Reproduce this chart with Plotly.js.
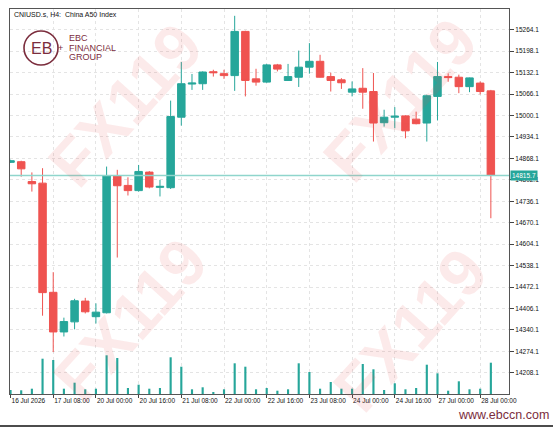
<!DOCTYPE html>
<html><head><meta charset="utf-8">
<script src="https://cdn.plot.ly/plotly-3.0.1.min.js"></script>
<style>html,body{margin:0;padding:0;background:#fff}#chart{width:553px;height:427px}</style>
</head><body><div id="chart"></div>
<script>
// CNIUSD.s H4 — China A50 Index
const openP  = [14856,14858,14797,14792,14456,14334,14365,14429,14381,14393,14815,14785,14769,14826,14779,14778,14995,15097,15098,15135,15129,15123,15259,15113,15103,15156,15108,15118,15149,15167,15120,15110,15072,15084,15074,14978,14995,14999,14989,14977,15059,15120,15118,15089,15100,15076];
const highP  = [14864,14861,14825,14838,14518,14378,14436,14439,14422,14843,14833,14810,14848,14829,14802,15046,15165,15128,15136,15141,15141,15307,15261,15144,15159,15159,15159,15200,15223,15187,15132,15115,15105,15146,15131,15018,15026,15001,15012,15064,15165,15130,15126,15117,15105,15079];
const lowP   = [14854,14812,14766,14384,14272,14320,14342,14391,14360,14391,14563,14754,14766,14776,14751,14774,14969,15079,15079,15120,15113,15076,15059,15092,15101,15136,15107,15088,15129,15117,15074,15082,15059,15021,14920,14966,14961,14930,14973,14920,14985,15104,15069,15072,15065,14684];
const closeP = [14861,14836,14790,14455,14334,14366,14430,14396,14395,14815,14784,14769,14828,14780,14782,14997,15098,15100,15134,15132,15123,15259,15108,15103,15156,15143,15120,15149,15167,15118,15108,15101,15082,15072,14977,14995,14998,14953,14975,15061,15120,15117,15089,15116,15074,14815.7];
const volume = [400,370,530,3530,3400,530,1130,470,530,3870,3600,600,930,530,600,3670,2730,470,670,200,470,3070,2730,470,600,330,470,3070,2200,530,1200,530,530,3000,2470,400,1070,470,600,2930,2070,330,1270,470,530,3130];
const tickLabels = ["16 Jul 2026","17 Jul 08:00","20 Jul 00:00","20 Jul 16:00","21 Jul 08:00","22 Jul 00:00","22 Jul 16:00","23 Jul 08:00","24 Jul 00:00","24 Jul 16:00","27 Jul 00:00","28 Jul 00:00"];
const tickEvery = 4;
const lastPrice = 14815.7;
const symbolTitle = "CNIUSD.s, H4:  China A50 Index";

const idx = openP.map((_, i) => i);
const tickIdx = tickLabels.map((_, k) => k * tickEvery);

const UP = '#26a69a', DOWN = '#ef5350', MAROON = '#7b2d3d';
const FONT = 'Liberation Sans, Arial, sans-serif';

// pixel helpers for decorations (plot area: x 10..509, y 9..394)
const L = 10, R = 509, T = 9, B = 394;
const px = x => (x - L) / (R - L);
const py = y => (B - y) / (B - T);

const traces = [
  {type: 'bar', x: idx, y: volume, yaxis: 'y2', width: 0.2,
   marker: {color: UP, line: {width: 0}}, hoverinfo: 'skip', showlegend: false},
  {type: 'candlestick', x: idx, open: openP, high: highP, low: lowP, close: closeP,
   increasing: {line: {color: UP, width: 1}, fillcolor: UP},
   decreasing: {line: {color: DOWN, width: 1}, fillcolor: DOWN},
   whiskerwidth: 0, showlegend: false}
];

const note = (x, y, text, font, extra) => Object.assign({xref: 'paper', yref: 'paper', x: px(x), y: py(y),
  xanchor: 'center', yanchor: 'middle', text: text, showarrow: false, font: font}, extra || {});

const wmFont = {family: FONT, size: 66, weight: 'bold', color: 'rgba(232,80,80,0.12)'};
const logoFont = {family: FONT, size: 9, color: MAROON};

const layout = {
  width: 553, height: 427,
  margin: {l: L, r: 553 - R, t: T, b: 427 - B, pad: 0},
  paper_bgcolor: '#fff', plot_bgcolor: '#fff',
  showlegend: false,
  boxgap: 0.3, boxgroupgap: 0,
  xaxis: {
    type: 'linear', range: [-0.05, 46.7], rangeslider: {visible: false},
    tickvals: tickIdx, ticktext: tickLabels, ticklabelposition: 'outside right', tickangle: 0,
    ticks: 'outside', ticklen: 3, tickcolor: '#444',
    tickfont: {family: FONT, size: 6.5, color: '#111'},
    showgrid: true, gridcolor: '#e4e4e4', griddash: '3px,3px', gridwidth: 1,
    showline: true, linecolor: '#555', linewidth: 1, mirror: true, zeroline: false
  },
  yaxis: {
    side: 'right', range: [14143, 15328], tick0: 14208.1, dtick: 66, tickformat: '.1f',
    ticks: 'outside', ticklen: 4, tickcolor: '#444',
    tickfont: {family: FONT, size: 6.5, color: '#111'},
    showgrid: true, gridcolor: '#e4e4e4', griddash: '3px,3px', gridwidth: 1,
    showline: true, linecolor: '#555', linewidth: 1, mirror: true, zeroline: false
  },
  yaxis2: {overlaying: 'y', range: [0, 38500], visible: false, showgrid: false, zeroline: false},
  shapes: [
    {type: 'line', xref: 'paper', x0: 0, x1: 1, yref: 'y', y0: lastPrice, y1: lastPrice,
     line: {color: '#8fd5cc', width: 1.5}},
    {type: 'circle', xref: 'paper', yref: 'paper', x0: px(24), x1: px(58), y0: py(65), y1: py(31),
     line: {color: MAROON, width: 1.6}},
    {type: 'line', xref: 'paper', yref: 'paper', x0: px(0), x1: px(553), y0: py(426), y1: py(426),
     line: {color: '#111', width: 1.5}}
  ],
  annotations: [
    note(125, 105, 'FX119', wmFont, {textangle: -48}),
    note(400, 100, 'FX119', wmFont, {textangle: -48}),
    note(130, 320, 'FX119', wmFont, {textangle: -48}),
    note(410, 330, 'FX119', wmFont, {textangle: -48}),
    note(12, 14, symbolTitle, {family: FONT, size: 7, color: '#111'}, {xanchor: 'left'}),
    note(41, 48, 'EB', {family: FONT, size: 16, color: MAROON}),
    note(60, 48, '+', logoFont),
    note(67, 38.5, 'EBC', logoFont, {xanchor: 'left'}),
    note(67, 48, 'FINANCIAL', logoFont, {xanchor: 'left'}),
    note(67, 57.5, 'GROUP', logoFont, {xanchor: 'left'}),
    {xref: 'paper', yref: 'y', x: 1, y: lastPrice, xanchor: 'left', yanchor: 'middle', xshift: 1,
     text: lastPrice.toFixed(1), showarrow: false, bgcolor: UP, borderpad: 1,
     font: {family: FONT, size: 6.5, color: '#fff'}},
    note(503, 415, 'www.ebccn.com', {family: FONT, size: 12.5, color: MAROON})
  ]
};

Plotly.newPlot('chart', traces, layout, {displayModeBar: false, staticPlot: true});
</script>
</body></html>
